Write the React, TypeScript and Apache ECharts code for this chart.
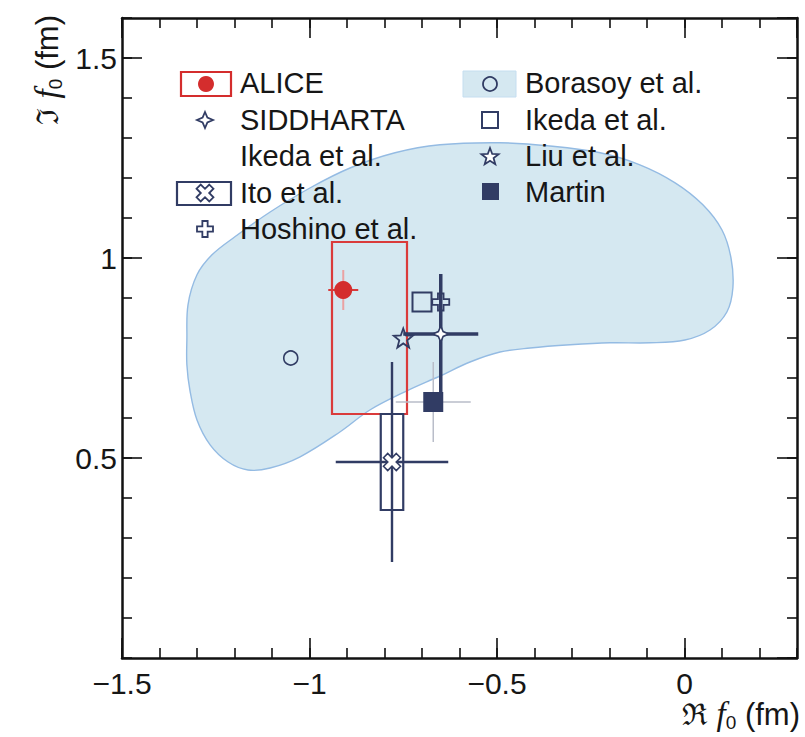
import React, { useEffect, useRef } from 'react';
import * as echarts from 'echarts';

// Axis ranges (fm) and tick steps
const reRange = [-1.5, 0.3];
const imRange = [0, 1.6];
const majorStep = 0.5;
const minorStep = 0.1;

// ALICE: [Re f0, Im f0], stat errors [Re, Im], asymmetric systematic band
const aliceValue = [-0.91, 0.92];
const aliceStat = [0.04, 0.05];
const aliceSystRe = [-0.94, -0.74];
const aliceSystIm = [0.61, 1.04];

// SIDDHARTA (Ikeda et al.)
const siddhartaValue = [-0.65, 0.81];
const siddhartaErr = [0.1, 0.15];

// Ito et al.: stat errors and systematic box half-widths
const itoValue = [-0.78, 0.49];
const itoStat = [0.15, 0.25];
const itoSyst = [0.03, 0.12];

// Model predictions
const ikedaValue = [-0.7, 0.89];
const hoshinoValue = [-0.65, 0.89];
const liuValue = [-0.75, 0.8];
const martinValue = [-0.67, 0.64];
const martinErr = [0.1, 0.1];
const borasoyValue = [-1.05, 0.75];

// Borasoy et al. allowed region (boundary, clockwise)
const borasoyRe = [
  -1.327, -1.324, -1.3, -1.26, -1.199, -1.105, -0.999, -0.892, -0.772, -0.652,
  -0.492, -0.359, -0.225, -0.119, -0.025, 0.049, 0.1, 0.124, 0.129, 0.113,
  0.068, 0.001, -0.092, -0.199, -0.305, -0.412, -0.492, -0.572, -0.652, -0.74,
  -0.839, -0.919, -1.025, -1.105, -1.164, -1.217, -1.265, -1.3, -1.319, -1.327,
];
const borasoyIm = [
  0.795, 0.883, 0.958, 1.008, 1.053, 1.115, 1.175, 1.225, 1.263, 1.283,
  1.288, 1.28, 1.263, 1.233, 1.188, 1.133, 1.07, 1.0, 0.925, 0.865,
  0.82, 0.795, 0.788, 0.788, 0.783, 0.775, 0.765, 0.74, 0.705, 0.668,
  0.62, 0.565, 0.503, 0.475, 0.47, 0.49, 0.533, 0.595, 0.67, 0.733,
];

const NAVY = '#313c64';
const RED = '#d42d2d';
const REGION_FILL = '#d5e8f1';
const REGION_EDGE = '#94bbe3';
const TEXT = '#161616';

// Marker outlines in unit coordinates
const fourStar = [[0, -1], [0.3, -0.3], [1, 0], [0.3, 0.3], [0, 1], [-0.3, 0.3], [-1, 0], [-0.3, -0.3]];
const openCross = [
  [-0.33, -1], [0.33, -1], [0.33, -0.33], [1, -0.33], [1, 0.33], [0.33, 0.33],
  [0.33, 1], [-0.33, 1], [-0.33, 0.33], [-1, 0.33], [-1, -0.33], [-0.33, -0.33],
];
const xCross = openCross.map(([x, y]) => [(x - y) / 1.4142, (x + y) / 1.4142]);
const fiveStar = Array.from({ length: 10 }, (_, k) => {
  const a = -Math.PI / 2 + (k * Math.PI) / 5;
  const r = k % 2 ? 0.42 : 1;
  return [r * Math.cos(a), r * Math.sin(a)];
});

const toPath = (pts: number[][]) =>
  'path://' + pts.map(([x, y], i) => `${i ? 'L' : 'M'}${x.toFixed(3)},${y.toFixed(3)}`).join(' ') + ' Z';
const placed = (pts: number[][], cx: number, cy: number, r: number) =>
  pts.map(([x, y]) => [cx + x * r, cy + y * r]);

const fmt = (v: number) => {
  const s = String(Math.round(v * 100) / 100);
  return v < 0 ? '\u2212' + s.slice(1) : s;
};

const labelFont = { fontFamily: 'Liberation Sans', fontSize: 30, color: TEXT };

function makeAxis(dim: 'x' | 'y', position: string, step: number, tickLen: number, labels: boolean, line: boolean) {
  const range = dim === 'x' ? reRange : imRange;
  return {
    type: 'value',
    position,
    min: range[0],
    max: range[1],
    interval: step,
    splitLine: { show: false },
    axisLine: { show: line, onZero: false, lineStyle: { color: '#111', width: 2.5 } },
    axisTick: { show: true, inside: true, length: tickLen, lineStyle: { color: '#111', width: 1.6 } },
    axisLabel: labels
      ? {
          show: true,
          ...labelFont,
          margin: dim === 'x' ? 10 : 5,
          formatter: fmt,
          showMaxLabel: false,
          showMinLabel: dim === 'x',
        }
      : { show: false },
    silent: true,
  };
}

function errorBars(rows: number[][], hColor: string, vColor: string, width: number, z: number) {
  return {
    type: 'custom',
    xAxisIndex: 0,
    yAxisIndex: 0,
    z,
    silent: true,
    clip: false,
    data: rows,
    renderItem: (_p: any, api: any) => {
      const x = api.value(0);
      const y = api.value(1);
      const l = api.coord([x - api.value(2), y]);
      const r = api.coord([x + api.value(3), y]);
      const b = api.coord([x, y - api.value(4)]);
      const t = api.coord([x, y + api.value(5)]);
      return {
        type: 'group',
        children: [
          { type: 'line', shape: { x1: b[0], y1: b[1], x2: t[0], y2: t[1] }, style: { stroke: vColor, lineWidth: width } },
          { type: 'line', shape: { x1: l[0], y1: l[1], x2: r[0], y2: r[1] }, style: { stroke: hColor, lineWidth: width } },
        ],
      };
    },
  };
}

function systBox(rows: number[][], color: string, z: number) {
  return {
    type: 'custom',
    xAxisIndex: 0,
    yAxisIndex: 0,
    z,
    silent: true,
    data: rows,
    renderItem: (_p: any, api: any) => {
      const p0 = api.coord([api.value(0), api.value(3)]);
      const p1 = api.coord([api.value(1), api.value(2)]);
      return {
        type: 'rect',
        shape: { x: p0[0], y: p0[1], width: p1[0] - p0[0], height: p1[1] - p0[1] },
        style: { fill: 'none', stroke: color, lineWidth: 2.2 },
      };
    },
  };
}

function marker(value: number[], symbol: string, size: number, fill: string, stroke: string, bw: number, z: number) {
  return {
    type: 'scatter',
    xAxisIndex: 0,
    yAxisIndex: 0,
    z,
    silent: true,
    data: [value],
    symbol,
    symbolSize: size,
    itemStyle: { color: fill, borderColor: stroke, borderWidth: bw, opacity: 1 },
  };
}

const titleRich = {
  r: { fontFamily: 'DejaVu Serif', fontSize: 30, fill: TEXT, lineHeight: 36 },
  f: { fontFamily: 'Liberation Serif', fontStyle: 'italic', fontSize: 33, fill: TEXT, lineHeight: 36 },
  s: { fontFamily: 'Liberation Sans', fontSize: 19, fill: TEXT, lineHeight: 19, verticalAlign: 'bottom' },
  u: { fontFamily: 'Liberation Sans', fontSize: 31, fill: TEXT, lineHeight: 36 },
};

function legendText(x: number, y: number, text: string) {
  return {
    type: 'text',
    x,
    y,
    z: 20,
    style: { text, fill: TEXT, font: '29px "Liberation Sans"', verticalAlign: 'middle', align: 'left' },
  };
}

function legendPoly(pts: number[][], cx: number, cy: number, r: number, fill: string) {
  return {
    type: 'polygon',
    z: 21,
    shape: { points: placed(pts, cx, cy, r) },
    style: { fill, stroke: NAVY, lineWidth: 1.8 },
  };
}

export default function App() {
  const ref = useRef<HTMLDivElement>(null);

  useEffect(() => {
    if (!ref.current) return;
    const chart = echarts.init(ref.current, null, { renderer: 'svg' });

    const legend = [
      // left column
      { type: 'rect', z: 20, shape: { x: 181, y: 72, width: 50, height: 24 }, style: { fill: '#fff', stroke: RED, lineWidth: 2.2 } },
      { type: 'circle', z: 21, shape: { cx: 206, cy: 84, r: 8 }, style: { fill: RED } },
      legendText(240, 83, 'ALICE'),
      legendPoly(fourStar, 205, 120, 8, '#fff'),
      legendText(240, 120, 'SIDDHARTA'),
      legendText(240, 156, 'Ikeda et al.'),
      { type: 'rect', z: 20, shape: { x: 177, y: 182, width: 54, height: 23 }, style: { fill: '#fff', stroke: NAVY, lineWidth: 2.2 } },
      legendPoly(xCross, 205, 193, 9, '#fff'),
      legendText(240, 193, 'Ito et al.'),
      legendPoly(openCross, 205, 229, 8, '#fff'),
      legendText(240, 229, 'Hoshino et al.'),
      // right column
      { type: 'rect', z: 20, shape: { x: 463, y: 71, width: 53, height: 26 }, style: { fill: REGION_FILL, stroke: '#c5def0', lineWidth: 1 } },
      { type: 'circle', z: 21, shape: { cx: 490, cy: 84, r: 7 }, style: { fill: 'none', stroke: NAVY, lineWidth: 1.8 } },
      legendText(525, 83, 'Borasoy et al.'),
      { type: 'rect', z: 21, shape: { x: 482, y: 112, width: 16, height: 16 }, style: { fill: '#fff', stroke: NAVY, lineWidth: 2 } },
      legendText(525, 120, 'Ikeda et al.'),
      legendPoly(fiveStar, 490, 157, 9, '#fff'),
      legendText(525, 156, 'Liu et al.'),
      { type: 'rect', z: 21, shape: { x: 482, y: 183, width: 17, height: 17 }, style: { fill: NAVY } },
      legendText(525, 192, 'Martin'),
    ];

    const titles = [
      {
        type: 'text',
        x: 800,
        y: 714,
        z: 20,
        style: { text: '{r|\u211C }{f|f}{s|0}{u| (fm)}', rich: titleRich, align: 'right', verticalAlign: 'middle' },
      },
      {
        type: 'text',
        x: 47,
        y: 15,
        rotation: Math.PI / 2,
        z: 20,
        style: { text: '{r|\u2111 }{f|f}{s|0}{u| (fm)}', rich: titleRich, align: 'right', verticalAlign: 'middle' },
      },
    ];

    chart.setOption({
      animation: false,
      backgroundColor: '#fff',
      grid: { left: 122, right: 8, top: 18, bottom: 79, containLabel: false, outerBoundsMode: 'none' },
      xAxis: [
        makeAxis('x', 'bottom', majorStep, 20, true, true),
        makeAxis('x', 'bottom', minorStep, 10, false, false),
        makeAxis('x', 'top', majorStep, 20, false, true),
        makeAxis('x', 'top', minorStep, 10, false, false),
      ],
      yAxis: [
        makeAxis('y', 'left', majorStep, 20, true, true),
        makeAxis('y', 'left', minorStep, 10, false, false),
        makeAxis('y', 'right', majorStep, 20, false, true),
        makeAxis('y', 'right', minorStep, 10, false, false),
      ],
      series: [
        {
          type: 'custom',
          xAxisIndex: 0,
          yAxisIndex: 0,
          z: 1,
          silent: true,
          data: [[borasoyValue[0], borasoyValue[1]]],
          renderItem: (_p: any, api: any) => ({
            type: 'polygon',
            shape: { points: borasoyRe.map((re, i) => api.coord([re, borasoyIm[i]])), smooth: 0.35 },
            style: { fill: REGION_FILL, stroke: REGION_EDGE, lineWidth: 1.4 },
          }),
        },
        systBox([[aliceSystRe[0], aliceSystRe[1], aliceSystIm[0], aliceSystIm[1]]], '#da3b3b', 2),
        systBox(
          [[itoValue[0] - itoSyst[0], itoValue[0] + itoSyst[0], itoValue[1] - itoSyst[1], itoValue[1] + itoSyst[1]]],
          NAVY,
          2
        ),
        errorBars(
          [[martinValue[0], martinValue[1], martinErr[0], martinErr[0], martinErr[1], martinErr[1]]],
          '#b9bdc9',
          '#b9bdc9',
          1.5,
          3
        ),
        errorBars(
          [[itoValue[0], itoValue[1], itoStat[0], itoStat[0], itoStat[1], itoStat[1]]],
          NAVY,
          NAVY,
          2.4,
          3
        ),
        errorBars(
          [[aliceValue[0], aliceValue[1], aliceStat[0], aliceStat[0], aliceStat[1], aliceStat[1]]],
          '#d83a3a',
          '#eaa2a2',
          2,
          3
        ),
        marker(borasoyValue, 'circle', 14, 'rgba(255,255,255,0)', NAVY, 1.6, 4),
        marker(ikedaValue, 'rect', 19, 'rgba(255,255,255,0)', NAVY, 2, 4),
        marker(hoshinoValue, toPath(openCross), 17, 'rgba(255,255,255,0)', NAVY, 1.8, 4),
        marker(liuValue, toPath(fiveStar), 19, 'rgba(255,255,255,0)', NAVY, 1.8, 4),
        marker(martinValue, 'rect', 20, NAVY, NAVY, 0, 4),
        errorBars(
          [[siddhartaValue[0], siddhartaValue[1], siddhartaErr[0], siddhartaErr[0], siddhartaErr[1], siddhartaErr[1]]],
          NAVY,
          NAVY,
          3.5,
          5
        ),
        marker(siddhartaValue, toPath(fourStar), 16, '#fff', NAVY, 1.6, 6),
        marker(itoValue, toPath(xCross), 17, '#fff', NAVY, 1.6, 6),
        marker(aliceValue, 'circle', 18, RED, RED, 0, 6),
      ],
      graphic: [...legend, ...titles],
    });

    return () => chart.dispose();
  }, []);

  return (
    <div
      ref={ref}
      style={{ position: 'fixed', left: 0, top: 0, width: 805, height: 737, background: '#fff' }}
    />
  );
}
